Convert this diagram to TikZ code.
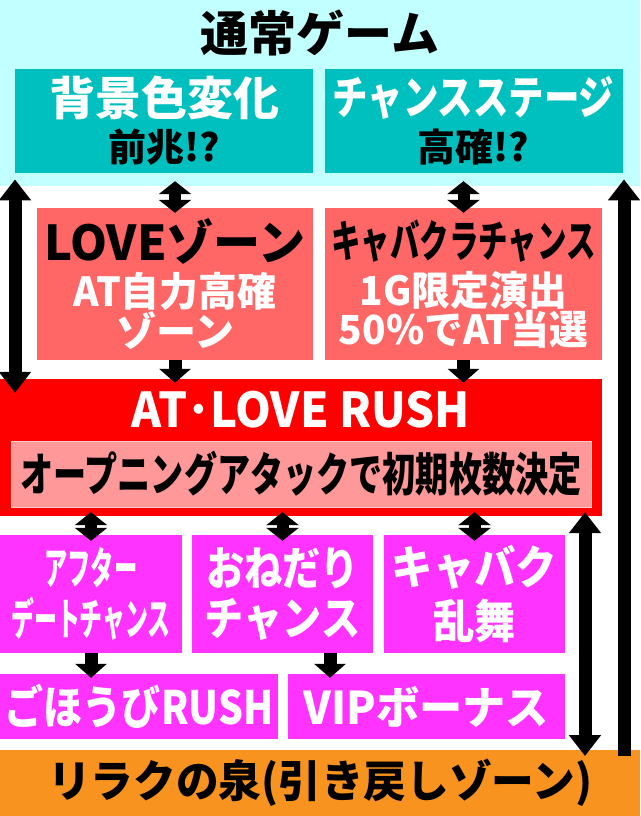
\documentclass[tikz,border=0pt]{standalone}
\usepackage{fontspec}
\usepackage{tikz}
\usetikzlibrary{arrows.meta}
\newfontfamily\jp{Noto Sans CJK JP}[BoldFont=* Black]
\newcommand\jpf[3]{\fontsize{#1}{#2}\selectfont\addfontfeatures{FakeStretch=#3}}
\definecolor{cyanbg}{RGB}{194,255,255}
\definecolor{tealc}{RGB}{0,191,191}
\definecolor{salmonc}{RGB}{255,102,102}
\definecolor{redc}{RGB}{255,0,0}
\definecolor{pinkc}{RGB}{255,153,153}
\definecolor{pinkline}{RGB}{255,204,204}
\definecolor{magc}{RGB}{255,51,255}
\definecolor{orangec}{RGB}{247,147,30}
\tikzset{
    box/.style={rectangle, inner sep=0pt, align=center, font=\jp\bfseries},
    tealbox/.style={box, fill=tealc, minimum width=298pt, minimum height=104pt},
    salmonbox/.style={box, fill=salmonc, text=white, minimum width=277pt, minimum height=152pt},
    magbox/.style={box, fill=magc, text=white, minimum width=181pt, minimum height=118pt},
    lowbox/.style={box, fill=magc, text=white, minimum width=277pt, minimum height=65pt},
    bigarrow/.style={draw=black, line width=13pt, -{Triangle[width=31pt,length=21pt]}},
    bigtwoway/.style={draw=black, line width=13pt,
        {Triangle[width=31pt,length=21pt]}-{Triangle[width=31pt,length=21pt]}},
    twoway/.style={draw=black, line width=12pt,
        {Triangle[width=32pt,length=13pt]}-{Triangle[width=32pt,length=13pt]}},
    down/.style={draw=black, line width=13pt, -{Triangle[width=31pt,length=14pt]}}
}
\begin{document}
\begin{tikzpicture}[x=1pt, y=-1pt]
\useasboundingbox (0,0) rectangle (640,816);
\fill[white] (0,0) rectangle (640,816);
\node[box, fill=cyanbg, minimum width=640pt, minimum height=186pt, anchor=north west] (tsujo) at (0,0) {};
\node[box] (tsujotitle) at (320,33) {\jpf{48}{50}{1}通常ゲーム};
\node[tealbox] (haikei) at (164,121)
  {{\color{white}\jpf{46}{50}{1}背景色変化}\\[8pt]{\jpf{38}{50}{1}前兆!?}};
\node[tealbox] (chance) at (473.5,121)
  {{\color{white}\jpf{46}{50}{0.77}チャンスステージ}\\[8pt]{\jpf{38}{50}{1}高確!?}};
\node[salmonbox, minimum width=276pt] (lovezone) at (175,284)
  {{\color{black}\jpf{48}{40}{0.98}LOVEゾーン}\\[7pt]{\jpf{40}{40}{0.97}AT自力高確}\\{\jpf{40}{40}{1}ゾーン}};
\node[salmonbox] (kyabakura) at (463.5,284)
  {{\color{black}\jpf{44}{40}{0.67}キャバクラチャンス}\\[8pt]{\jpf{40}{40}{0.97}1G限定演出}\\{\jpf{40}{40}{0.97}50\%でAT当選}};
\node[box, fill=redc, minimum width=602pt, minimum height=137pt] (atrush) at (301,447.5) {};
\node[box, text=white] (atrushtitle) at (301,410) {\jpf{48}{50}{0.95}AT･LOVE RUSH};
\node[box, fill=pinkc, draw=pinkline, line width=1pt, minimum width=580pt, minimum height=66pt] (opening) at (301,474)
  {\jpf{46}{46}{0.72}オープニングアタックで初期枚数決定};
\node[magbox, minimum width=182pt] (after) at (91,594)
  {{\jpf{44}{52}{0.53}アフター}\\[8pt]{\jpf{44}{52}{0.52}デートチャンス}};
\node[magbox] (onedari) at (282.5,594)
  {{\jpf{46}{52}{0.83}おねだり}\\[8pt]{\jpf{46}{52}{0.85}チャンス}};
\node[magbox] (kyabaku) at (474.5,594)
  {{\jpf{46}{52}{0.9}キャバク}\\[8pt]{\jpf{46}{52}{0.9}乱舞}};
\node[lowbox, minimum width=278pt] (gohobi) at (139,706.5) {\jpf{46}{46}{0.85}ごほうびRUSH};
\node[lowbox] (vip) at (426.5,706.5) {\jpf{45}{46}{0.96}VIPボーナス};
\node[box, fill=orangec, minimum width=640pt, minimum height=66pt, anchor=north west] (izumi) at (0,750)
  {\jpf{44}{44}{0.97}リラクの泉(引き戻しゾーン)};
\coordinate (leftcol) at (15,0);
\coordinate (rightcol) at (624,0);
\coordinate (backcol) at (585,0);
\coordinate (vipcol) at (330,0);
\draw[style={bigtwoway}, shorten <=-7pt, shorten >=-14pt]
  (tsujo.south -| leftcol) -- (atrush.north -| leftcol);
\draw[style={bigarrow}, shorten <=-6pt, shorten >=-7pt]
  (izumi.north -| rightcol) -- (tsujo.south -| rightcol);
\draw[style={bigtwoway}, shorten <=-4pt, shorten >=-6pt]
  (atrush.south -| backcol) -- (izumi.north -| backcol);
\draw[style={twoway}, shorten <=8pt, shorten >=-5pt]
  (haikei.south -| lovezone.north) -- (lovezone.north);
\draw[style={twoway}, shorten <=8pt, shorten >=-5pt]
  (chance.south -| kyabakura.north) -- (kyabakura.north);
\draw[style={down}, shorten >=-4pt]
  (lovezone.south) -- (atrush.north -| lovezone.south);
\draw[style={down}, shorten >=-4pt]
  (kyabakura.south) -- (atrush.north -| kyabakura.south);
\draw[style={twoway}, shorten <=-4pt, shorten >=-6pt]
  (atrush.south -| after.north) -- (after.north);
\draw[style={twoway}, shorten <=-4pt, shorten >=-6pt]
  (atrush.south -| onedari.north) -- (onedari.north);
\draw[style={twoway}, shorten <=-4pt, shorten >=-6pt]
  (atrush.south -| kyabaku.north) -- (kyabaku.north);
\draw[style={down}, shorten >=-4pt]
  (after.south) -- (gohobi.north -| after.south);
\draw[style={down}, shorten >=-4pt]
  (onedari.south -| vipcol) -- (vip.north -| vipcol);
\end{tikzpicture}
\end{document}
